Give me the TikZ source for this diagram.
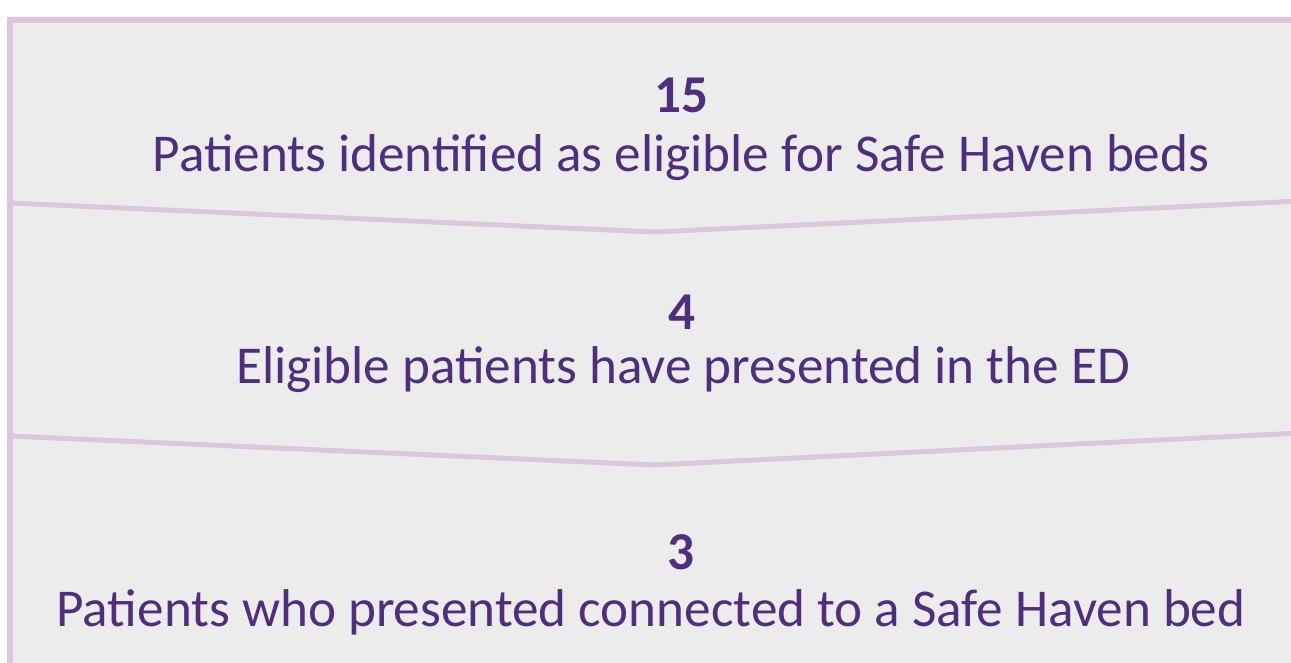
\documentclass[tikz,border=0pt]{standalone}
\usepackage{fontspec}
\setmainfont{Carlito}
\usepackage{xcolor}
\definecolor{Panel}{RGB}{236,236,236}
\definecolor{Edge}{RGB}{219,198,222}
\definecolor{Ink}{RGB}{80,46,126}

\begin{document}
\begin{tikzpicture}[x=0.5pt,y=-0.5pt,
  stagenum/.style={anchor=base, text=Ink, font=\fontsize{26.6}{32}\selectfont\bfseries, inner sep=0pt},
  stagetext/.style={anchor=base, text=Ink, font=\fontsize{26.6}{32}\selectfont, inner sep=0pt}]
\useasboundingbox (0,0) rectangle (1291,663);
\begin{scope}
\clip (0,0) rectangle (1291,663);
% panels
\fill[Panel] (10,20) rectangle (1300,680);
% outer edges
\draw[Edge, line width=3pt] (10,680) -- (10,20) -- (1300,20);
% chevron separators
\draw[Edge, line width=2.5pt] (10,203) -- (654,232) -- (1300,201);
\draw[Edge, line width=2.5pt] (10,436) -- (654,465) -- (1300,433);
\end{scope}

\node[stagenum] (n1) at (681,113) {15};
\node[stagetext] (t1) at (681,172) {Patients identified as eligible for Safe Haven beds};
\node[stagenum] (n2) at (682,329) {4};
\node[stagetext] (t2) at (683,384) {Eligible patients have presented in the ED};
\node[stagenum] (n3) at (681,569) {3};
\node[stagetext] (t3) at (651,626) {Patients who presented connected to a Safe Haven bed};
\end{tikzpicture}
\end{document}
